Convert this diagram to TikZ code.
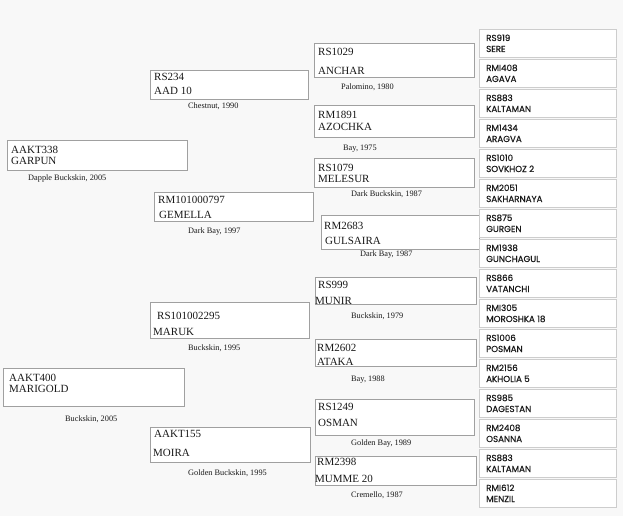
\documentclass[tikz,border=0pt]{standalone}
\usepackage{fontspec}
\setmainfont{Liberation Serif}
\newfontfamily\ancfont[FakeBold=0.5]{Poppins}
\definecolor{paper}{RGB}{248,248,248}
\definecolor{boxline}{RGB}{160,160,160}
\definecolor{ancline}{RGB}{205,205,205}
\definecolor{ink}{RGB}{25,25,25}
\tikzset{
  horse/.style={draw=boxline, fill=white, line width=0.8pt, anchor=north west, inner sep=0pt, outer sep=0pt},
  reg/.style={anchor=base west, inner sep=0pt, text=ink, font=\fontsize{11}{11}\selectfont},
  coat/.style={anchor=base west, inner sep=0pt, text=ink, font=\fontsize{8.3}{8.3}\selectfont},
  anc/.style={draw=ancline, fill=white, line width=0.8pt, anchor=north west, inner sep=0pt, outer sep=0pt, minimum width=137pt, minimum height=28pt},
  anctext/.style={anchor=base west, inner sep=0pt, text=ink, font=\ancfont\fontsize{8.7}{8.7}\selectfont}
}
\def\ancestor(#1)(#2)(#3)(#4){%
  \node[anc] (#1) at (479,#2) {};
  \node[anctext] (#1-id) at (486,#2+12) {#3};
  \node[anctext] (#1-nm) at (486,#2+23) {#4};}

\begin{document}
\begin{tikzpicture}[x=1pt, y=-1pt]
  %%%%% START %%%%%

  \fill[paper] (0,0) rectangle (623,516);

  % sire and dam
  \node[horse, minimum width=180pt, minimum height=30pt] (garpun) at (7,140) {};
  \node[reg] (garpun-id) at (11,153) {AAKT338};
  \node[reg] (garpun-nm) at (11,164) {GARPUN};
  \node[coat] (garpun-coat) at (28,180) {Dapple Buckskin, 2005};

  \node[horse, minimum width=181pt, minimum height=38pt] (marigold) at (3,368) {};
  \node[reg] (marigold-id) at (9,381) {AAKT400};
  \node[reg] (marigold-nm) at (9,392) {MARIGOLD};
  \node[coat] (marigold-coat) at (65,421) {Buckskin, 2005};

  % grandparents
  \node[horse, minimum width=158pt, minimum height=29pt] (aad) at (150,70) {};
  \node[reg] (aad-id) at (154,81) {RS234};
  \node[reg] (aad-nm) at (154,95) {AAD 10};
  \node[coat] (aad-coat) at (188,109) {Chestnut, 1990};

  \node[horse, minimum width=159pt, minimum height=29pt] (gemella) at (154,192) {};
  \node[reg] (gemella-id) at (158,203) {RM101000797};
  \node[reg] (gemella-nm) at (159,218) {GEMELLA};
  \node[coat] (gemella-coat) at (188,233) {Dark Bay, 1997};

  \node[horse, minimum width=159pt, minimum height=36pt] (maruk) at (150,302) {};
  \node[reg] (maruk-id) at (157,319) {RS101002295};
  \node[reg] (maruk-nm) at (153,335) {MARUK};
  \node[coat] (maruk-coat) at (188,350) {Buckskin, 1995};

  \node[horse, minimum width=160pt, minimum height=35pt] (moira) at (150,427) {};
  \node[reg] (moira-id) at (154,437) {AAKT155};
  \node[reg] (moira-nm) at (153,456) {MOIRA};
  \node[coat] (moira-coat) at (188,475) {Golden Buckskin, 1995};

  % great-grandparents
  \node[horse, minimum width=160pt, minimum height=34pt] (anchar) at (314,43) {};
  \node[reg] (anchar-id) at (318,56) {RS1029};
  \node[reg] (anchar-nm) at (318,75) {ANCHAR};
  \node[coat] (anchar-coat) at (341,90) {Palomino, 1980};

  \node[horse, minimum width=160pt, minimum height=32pt] (azochka) at (314,105) {};
  \node[reg] (azochka-id) at (318,118) {RM1891};
  \node[reg] (azochka-nm) at (318,130) {AZOCHKA};
  \node[coat] (azochka-coat) at (343,150) {Bay, 1975};

  \node[horse, minimum width=160pt, minimum height=29pt] (melesur) at (314,158) {};
  \node[reg] (melesur-id) at (318,171) {RS1079};
  \node[reg] (melesur-nm) at (318,182) {MELESUR};
  \node[coat] (melesur-coat) at (351,196) {Dark Buckskin, 1987};

  \node[horse, minimum width=158pt, minimum height=34pt] (gulsaira) at (321,215) {};
  \node[reg] (gulsaira-id) at (324,229) {RM2683};
  \node[reg] (gulsaira-nm) at (325,244) {GULSAIRA};
  \node[coat] (gulsaira-coat) at (360,256) {Dark Bay, 1987};

  \node[horse, minimum width=161pt, minimum height=27pt] (munir) at (315,277) {};
  \node[reg] (munir-id) at (318,288) {RS999};
  \node[reg] (munir-nm) at (315,304) {MUNIR};
  \node[coat] (munir-coat) at (351,318) {Buckskin, 1979};

  \node[horse, minimum width=161pt, minimum height=27pt] (ataka) at (315,339) {};
  \node[reg] (ataka-id) at (317,351) {RM2602};
  \node[reg] (ataka-nm) at (317,365) {ATAKA};
  \node[coat] (ataka-coat) at (351,381) {Bay, 1988};

  \node[horse, minimum width=159pt, minimum height=36pt] (osman) at (315,399) {};
  \node[reg] (osman-id) at (318,410) {RS1249};
  \node[reg] (osman-nm) at (318,426) {OSMAN};
  \node[coat] (osman-coat) at (351,445) {Golden Bay, 1989};

  \node[horse, minimum width=161pt, minimum height=29pt] (mumme) at (315,456) {};
  \node[reg] (mumme-id) at (317,465) {RM2398};
  \node[reg] (mumme-nm) at (315,482) {MUMME 20};
  \node[coat] (mumme-coat) at (351,497) {Cremello, 1987};

  % fourth generation
  \ancestor(sere)(29)(RS919)(SERE)
  \ancestor(agava)(59)(RMI408)(AGAVA)
  \ancestor(kaltaman)(89)(RS883)(KALTAMAN)
  \ancestor(aragva)(119)(RM1434)(ARAGVA)
  \ancestor(sovkhoz)(149)(RS1010)(SOVKHOZ 2)
  \ancestor(sakharnaya)(179)(RM2051)(SAKHARNAYA)
  \ancestor(gurgen)(209)(RS875)(GURGEN)
  \ancestor(gunchagul)(239)(RM1938)(GUNCHAGUL)
  \ancestor(vatanchi)(269)(RS866)(VATANCHI)
  \ancestor(moroshka)(299)(RMI305)(MOROSHKA 18)
  \ancestor(posman)(329)(RS1006)(POSMAN)
  \ancestor(akholia)(359)(RM2156)(AKHOLIA 5)
  \ancestor(dagestan)(389)(RS985)(DAGESTAN)
  \ancestor(osanna)(419)(RM2408)(OSANNA)
  \ancestor(kaltamanb)(449)(RS883)(KALTAMAN)
  \ancestor(menzil)(479)(RMI612)(MENZIL)

  %%%%% END %%%%%
\end{tikzpicture}
\end{document}
